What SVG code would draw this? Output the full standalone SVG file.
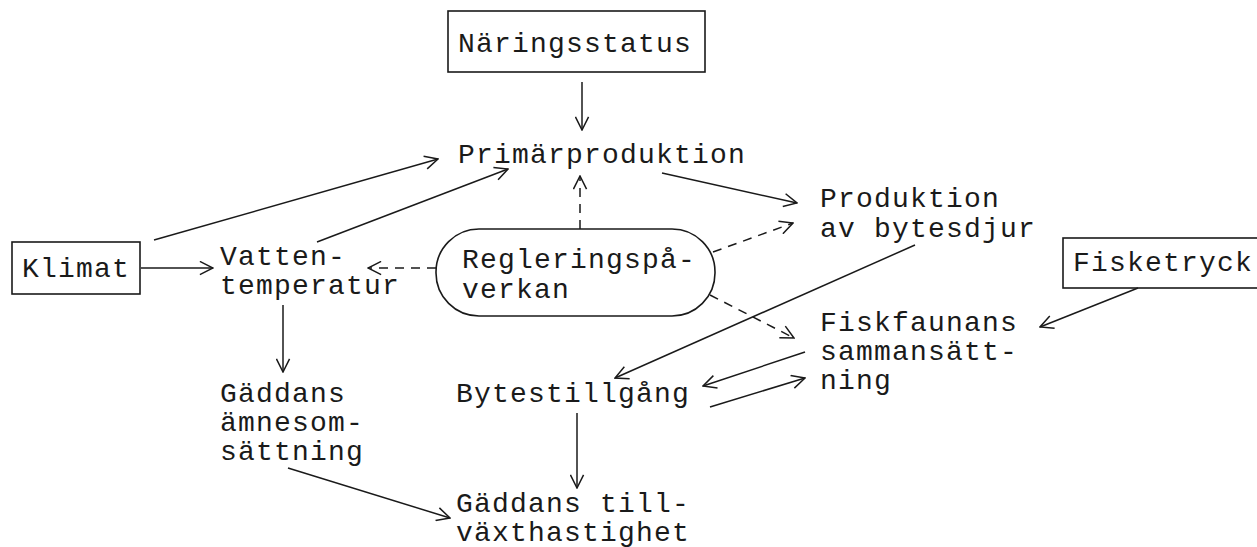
<svg xmlns="http://www.w3.org/2000/svg" width="1257" height="547" viewBox="0 0 1257 547">
<defs>
<style>
text{font-family:"Liberation Mono","DejaVu Sans Mono",monospace;font-size:28px;letter-spacing:1.2px;fill:#1a1a1a}
.box{fill:none;stroke:#1a1a1a;stroke-width:1.6}
.ln{fill:none;stroke:#1a1a1a;stroke-width:1.5;marker-end:url(#ah)}
.dash{stroke-dasharray:9 7}
</style>
<marker id="ah" viewBox="0 0 16 16" refX="15" refY="8" markerWidth="15" markerHeight="15" markerUnits="userSpaceOnUse" orient="auto">
<path d="M1,1 L15,8 L1,15" fill="none" stroke="#1a1a1a" stroke-width="1.6"/>
</marker>
</defs>
<rect width="1257" height="547" fill="#fff"/>
<g id="connectors">
<line class="ln" x1="582" y1="82" x2="582" y2="130"/>
<line class="ln" x1="154" y1="240" x2="438" y2="159"/>
<line class="ln" x1="317" y1="242" x2="508" y2="169"/>
<line class="ln" x1="141" y1="268" x2="213" y2="268"/>
<line class="ln dash" x1="436" y1="268" x2="368" y2="268"/>
<line class="ln dash" x1="580" y1="229" x2="580" y2="176"/>
<line class="ln" x1="662" y1="173" x2="797" y2="203"/>
<line class="ln dash" x1="713" y1="252" x2="793" y2="223"/>
<line class="ln dash" x1="710" y1="295" x2="794" y2="338"/>
<line class="ln" x1="915" y1="245" x2="615" y2="378"/>
<line class="ln" x1="805" y1="352" x2="703" y2="386"/>
<line class="ln" x1="710" y1="407" x2="805" y2="378"/>
<line class="ln" x1="1138" y1="288" x2="1040" y2="327"/>
<line class="ln" x1="283" y1="305" x2="283" y2="372"/>
<line class="ln" x1="577" y1="413" x2="577" y2="488"/>
<line class="ln" x1="288" y1="468" x2="450" y2="518"/>
</g>
<g id="naringsstatus">
<rect class="box" x="448" y="11" width="257" height="61"/>
<text x="458" y="52">Näringsstatus</text>
</g>
<g id="primarproduktion">
<text x="458" y="163">Primärproduktion</text>
</g>
<g id="klimat">
<rect class="box" x="12" y="242" width="128" height="52"/>
<text x="22" y="277">Klimat</text>
</g>
<g id="vattentemperatur">
<text x="220" y="265">Vatten-</text>
<text x="220" y="294">temperatur</text>
</g>
<g id="regleringspaverkan">
<rect class="box" x="436" y="229" width="279" height="87" rx="43" ry="43"/>
<text x="462" y="268">Regleringspå-</text>
<text x="462" y="298">verkan</text>
</g>
<g id="produktion">
<text x="820" y="207">Produktion</text>
<text x="820" y="237">av bytesdjur</text>
</g>
<g id="fisketryck">
<rect class="box" x="1063" y="238" width="210" height="50"/>
<text x="1073" y="271">Fisketryck</text>
</g>
<g id="fiskfaunan">
<text x="820" y="331">Fiskfaunans</text>
<text x="820" y="360">sammansätt-</text>
<text x="820" y="389">ning</text>
</g>
<g id="bytestillgang">
<text x="456" y="402">Bytestillgång</text>
</g>
<g id="gaddans-amnesomsattning">
<text x="220" y="402">Gäddans</text>
<text x="220" y="431">ämnesom-</text>
<text x="220" y="460">sättning</text>
</g>
<g id="gaddans-tillvaxt">
<text x="456" y="512">Gäddans till-</text>
<text x="456" y="541">växthastighet</text>
</g>
</svg>
